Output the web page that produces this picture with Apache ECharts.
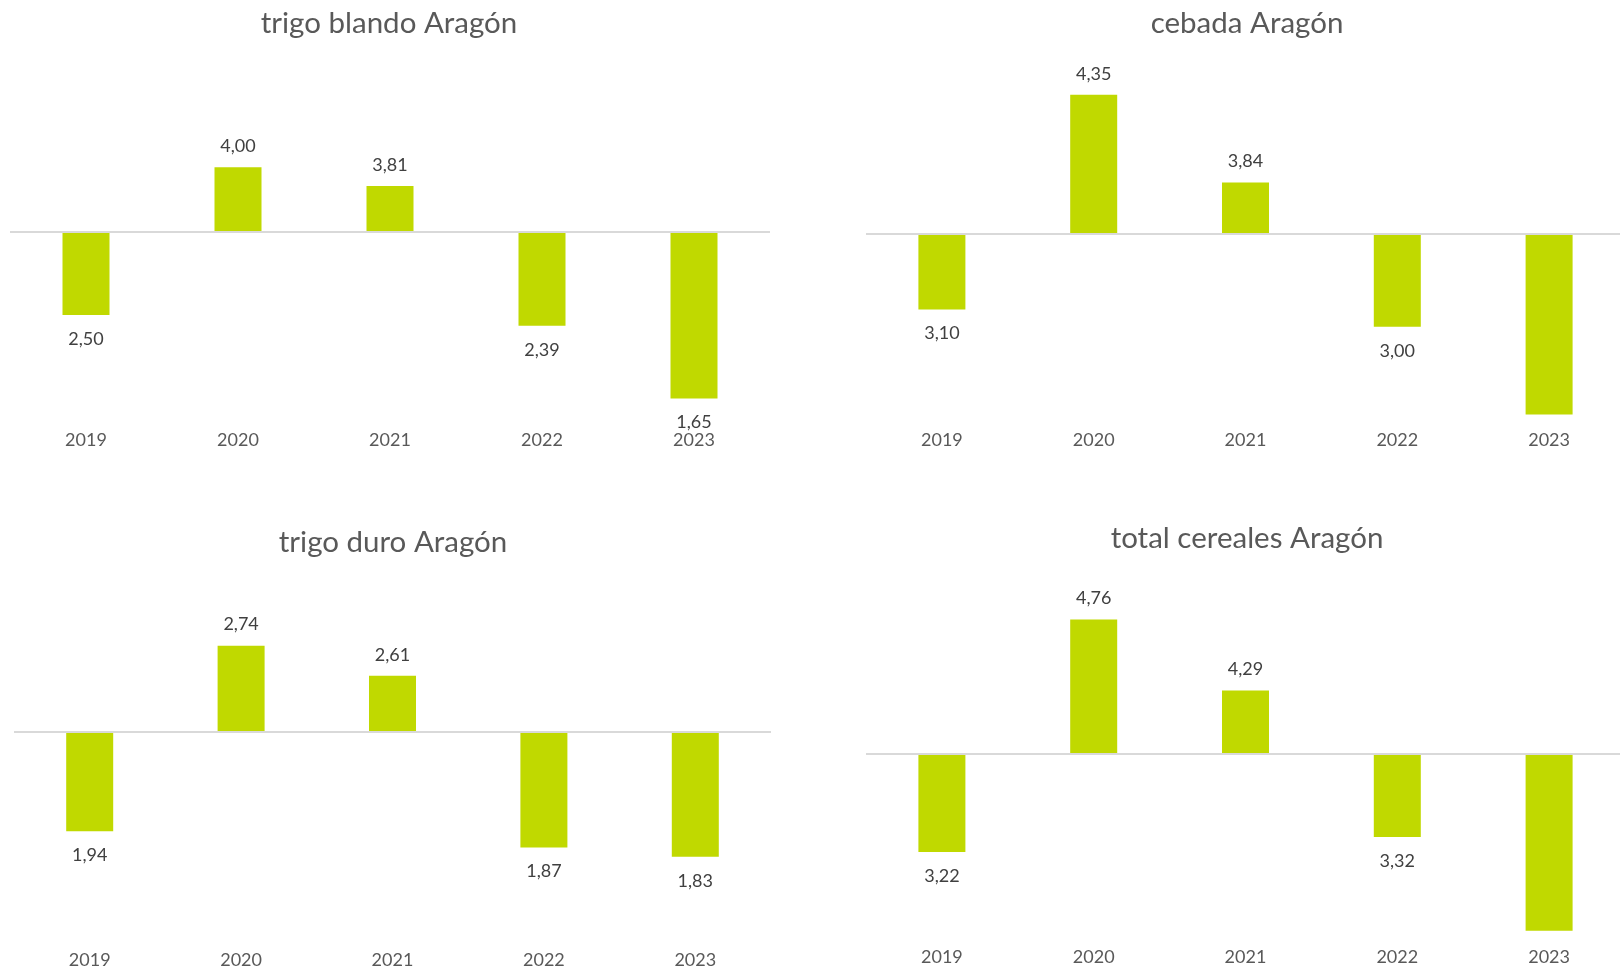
<!DOCTYPE html>
<html lang="es">
<head>
<meta charset="utf-8">
<title>Cereales Aragón</title>
<script src="https://cdn.jsdelivr.net/npm/echarts@6/dist/echarts.min.js"></script>
<style>
  html, body { margin: 0; padding: 0; background: #ffffff; overflow: hidden; }
  /* the right-hand plots run past the visible edge, so the canvas is a little wider */
  #chart { width: 1640px; height: 969px; }
</style>
</head>
<body>
<div id="chart"></div>
<script>
// Campañas
const categories = ['2019', '2020', '2021', '2022', '2023'];

// Valores por cultivo (la barra parte de la referencia de cada gráfico)
const trigoBlando = [2.50, 4.00, 3.81, 2.39, 1.65];
const cebada = [3.10, 4.35, 3.84, 3.00, 2.49];
const trigoDuro = [1.94, 2.74, 2.61, 1.87, 1.83];
const totalCereales = [3.22, 4.76, 4.29, 3.32, 2.70];

// Valor de referencia en el que cruza el eje horizontal
const trigoBlandoRef = 3.35;
const cebadaRef = 3.54;
const trigoDuroRef = 2.37;
const totalCerealesRef = 3.87;

// Etiquetas que no se muestran (ocultas bajo las etiquetas del eje)
const cebadaHidden = [false, false, false, false, true];
const totalHidden = [false, false, false, false, true];

const panels = [
  { title: 'trigo blando Aragón', values: trigoBlando, ref: trigoBlandoRef, hidden: [],
    grid: { left: 10, width: 760, top: 80, height: 343 }, yMin: 1.402, yMax: 4.888,
    titlePos: { x: 384, y: 18 } },
  { title: 'cebada Aragón', values: cebada, ref: cebadaRef, hidden: cebadaHidden,
    grid: { left: 866, width: 759, top: 80, height: 343 }, yMin: 2.440, yMax: 4.436,
    titlePos: { x: 1242, y: 18 } },
  { title: 'trigo duro Aragón', values: trigoDuro, ref: trigoDuroRef, hidden: [],
    grid: { left: 14, width: 757, top: 580, height: 363 }, yMin: 1.458, yMax: 3.023,
    titlePos: { x: 388, y: 537 } },
  { title: 'total cereales Aragón', values: totalCereales, ref: totalCerealesRef, hidden: totalHidden,
    grid: { left: 866, width: 759, top: 580, height: 360 }, yMin: 2.638, yMax: 5.022,
    titlePos: { x: 1242, y: 533 } }
];

const BAR_COLOR = '#C0D900';
const FONT = 'Lato, "Open Sans", sans-serif';
const fmt = v => v.toFixed(2).replace('.', ',');

const option = {
  backgroundColor: '#ffffff',
  animation: false,
  title: [],
  grid: [],
  xAxis: [],
  yAxis: [],
  series: []
};

panels.forEach((p, i) => {
  option.title.push({
    text: p.title,
    left: p.titlePos.x,
    top: p.titlePos.y,
    textAlign: 'center',
    textVerticalAlign: 'middle',
    textStyle: { fontFamily: FONT, fontSize: 29.5, fontWeight: 'normal', color: '#595959' }
  });
  option.grid.push(Object.assign({ containLabel: false }, p.grid));
  option.xAxis.push({
    type: 'category',
    gridIndex: i,
    data: categories,
    axisLine: { show: false },
    axisTick: { show: false },
    axisLabel: { margin: 8, fontFamily: FONT, fontSize: 18, color: '#595959' },
    splitLine: { show: false }
  });
  option.yAxis.push({
    type: 'value',
    gridIndex: i,
    min: p.yMin,
    max: p.yMax,
    show: false,
    splitLine: { show: false }
  });
  // Tramo invisible hasta el inicio de cada barra
  option.series.push({
    type: 'bar',
    xAxisIndex: i,
    yAxisIndex: i,
    stack: 'p' + i,
    barWidth: 47,
    silent: true,
    itemStyle: { color: 'rgba(0,0,0,0)' },
    data: p.values.map(v => Math.min(v, p.ref))
  });
  // Barra visible entre la referencia y el valor
  option.series.push({
    type: 'bar',
    xAxisIndex: i,
    yAxisIndex: i,
    stack: 'p' + i,
    barWidth: 47,
    itemStyle: { color: BAR_COLOR },
    data: p.values.map((v, j) => ({
      value: Math.abs(v - p.ref),
      label: {
        show: !p.hidden[j],
        position: v >= p.ref ? 'top' : 'bottom',
        distance: v >= p.ref ? 12 : 15
      }
    })),
    label: {
      fontFamily: FONT,
      fontSize: 18,
      color: '#404040',
      formatter: params => fmt(p.values[params.dataIndex])
    },
    markLine: {
      silent: true,
      symbol: ['none', 'none'],
      label: { show: false },
      lineStyle: { color: '#D9D9D9', width: 2, type: 'solid' },
      data: [{ yAxis: p.ref }]
    }
  });
});

const chart = echarts.init(document.getElementById('chart'), null, { renderer: 'canvas' });
chart.setOption(option);
</script>
</body>
</html>
